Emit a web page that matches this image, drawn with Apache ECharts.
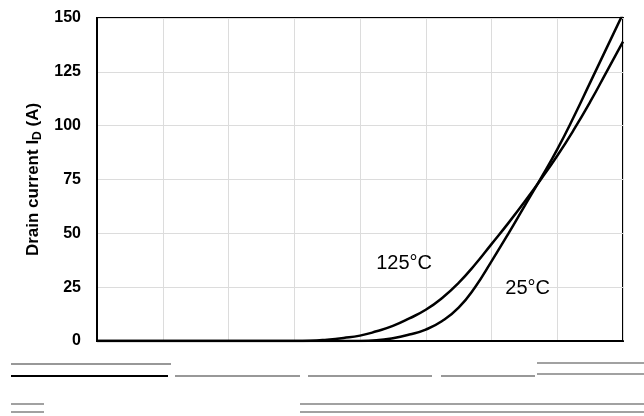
<!DOCTYPE html>
<html>
<head>
<meta charset="utf-8">
<script src="https://cdn.jsdelivr.net/npm/echarts@6/dist/echarts.min.js"></script>
<style>html,body{margin:0;padding:0;background:#fff}#c{width:644px;height:416px}</style>
</head>
<body>
<div id="c"></div>
<script>
// Gate voltage (x) sample points
const xValues = [0, 3.0, 3.25, 3.5, 3.75, 4.0, 4.25, 4.5, 4.75, 5.0, 5.25, 5.5, 5.75, 6.0, 6.25, 6.5, 6.75, 7.0, 7.25, 7.5, 7.75, 8.0];
// Drain current at 125°C
const current125 = [0, 0, 0.1, 0.6, 1.4, 2.5, 4.5, 7.0, 10.5, 14.5, 20, 27, 35.5, 45, 54.5, 64.5, 75, 86, 98, 111, 125, 139];
// Drain current at 25°C
const current25 = [0, 0, 0, 0, 0, 0, 0.3, 1.3, 3.0, 5.3, 9.3, 15.5, 25, 37, 49.5, 62.5, 75.5, 89, 104, 120, 136, 152];
const yTicks = [0, 25, 50, 75, 100, 125, 150];
const labels = [
  { text: '125°C', at: [4.67, 36.2] },
  { text: '25°C', at: [6.55, 24.2] }
];

const chart = echarts.init(document.getElementById('c'), null, { renderer: 'canvas' });
const pairs = (ys) => xValues.map((x, i) => [x, ys[i]]);
const labelFont = "'Liberation Sans Narrow','Arial Narrow','Liberation Sans',Arial,sans-serif";

chart.setOption({
  animation: false,
  backgroundColor: '#fff',
  grid: { left: 97, right: 21, top: 18, bottom: 75, show: true, borderColor: '#000', borderWidth: 2 },
  xAxis: {
    type: 'value', min: 0, max: 8, interval: 1,
    axisLine: { show: true, lineStyle: { color: '#000', width: 2 } },
    axisTick: { show: false },
    axisLabel: { show: false },
    splitLine: { show: true, lineStyle: { color: '#dcdcdc', width: 1 } }
  },
  yAxis: {
    type: 'value', min: yTicks[0], max: yTicks[yTicks.length - 1], interval: 25,
    axisLine: { show: true, lineStyle: { color: '#000', width: 2 } },
    axisTick: { show: false },
    axisLabel: { color: '#000', fontSize: 16, fontWeight: 'bold', margin: 16, fontFamily: labelFont },
    splitLine: { show: true, lineStyle: { color: '#dcdcdc', width: 1 } },
    name: 'Drain current I{sub|D} (A)',
    nameLocation: 'middle',
    nameGap: 50,
    nameTextStyle: {
      color: '#000', fontSize: 17, fontWeight: 'bold', fontFamily: "'Liberation Sans',Arial,sans-serif",
      rich: { sub: { fontSize: 12, fontWeight: 'bold', verticalAlign: 'bottom', padding: [8, 0, 0, 0], color: '#000' } }
    }
  },
  series: [
    {
      type: 'line', name: '125°C', data: pairs(current125), smooth: 0.5, showSymbol: false,
      lineStyle: { color: '#000', width: 2.5 },
      markPoint: {
        symbolSize: 0,
        data: [{ coord: labels[0].at, label: { show: true, formatter: labels[0].text, color: '#000', fontSize: 20, fontFamily: labelFont } }]
      }
    },
    {
      type: 'line', name: '25°C', data: pairs(current25), smooth: 0.5, showSymbol: false,
      lineStyle: { color: '#000', width: 2.5 },
      markPoint: {
        symbolSize: 0,
        data: [{ coord: labels[1].at, label: { show: true, formatter: labels[1].text, color: '#000', fontSize: 20, fontFamily: labelFont } }]
      }
    }
  ],
  graphic: [
    { type: 'line', shape: { x1: 11, y1: 364, x2: 171, y2: 364 }, style: { stroke: '#333', lineWidth: 1.2 } },
    { type: 'line', shape: { x1: 11, y1: 376, x2: 168, y2: 376 }, style: { stroke: '#000', lineWidth: 2 } },
    { type: 'line', shape: { x1: 175, y1: 376, x2: 300, y2: 376 }, style: { stroke: '#333', lineWidth: 1.2 } },
    { type: 'line', shape: { x1: 308, y1: 376, x2: 432, y2: 376 }, style: { stroke: '#333', lineWidth: 1.2 } },
    { type: 'line', shape: { x1: 441, y1: 376, x2: 535, y2: 376 }, style: { stroke: '#333', lineWidth: 1.2 } },
    { type: 'line', shape: { x1: 537, y1: 363, x2: 644, y2: 363 }, style: { stroke: '#444', lineWidth: 1.2 } },
    { type: 'line', shape: { x1: 537, y1: 374, x2: 644, y2: 374 }, style: { stroke: '#444', lineWidth: 1.2 } },
    { type: 'line', shape: { x1: 11, y1: 404, x2: 44, y2: 404 }, style: { stroke: '#444', lineWidth: 1.2 } },
    { type: 'line', shape: { x1: 11, y1: 412, x2: 44, y2: 412 }, style: { stroke: '#444', lineWidth: 1.2 } },
    { type: 'line', shape: { x1: 300, y1: 404, x2: 644, y2: 404 }, style: { stroke: '#444', lineWidth: 1.2 } },
    { type: 'line', shape: { x1: 300, y1: 412, x2: 644, y2: 412 }, style: { stroke: '#444', lineWidth: 1.2 } }
  ]
});
</script>
</body>
</html>
